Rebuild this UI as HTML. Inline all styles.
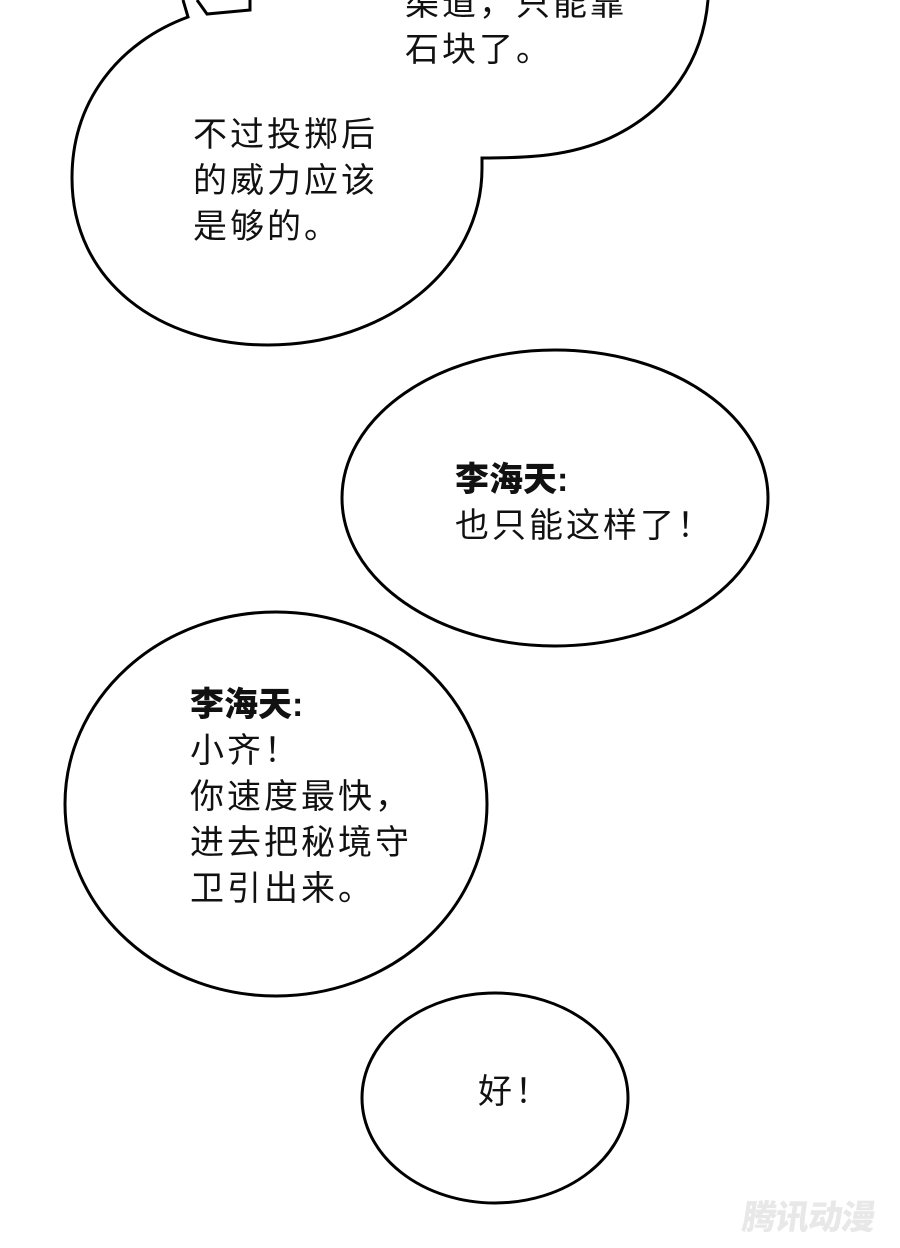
<!DOCTYPE html>
<html><head><meta charset="utf-8"><style>
html,body{margin:0;padding:0;background:#fff;}
body{width:900px;height:1248px;position:relative;overflow:hidden;font-family:"Liberation Sans","Noto Sans CJK SC",sans-serif;}
.t{position:absolute;font-size:34px;line-height:46px;color:#111;white-space:nowrap;letter-spacing:3px;}
b{font-weight:900;letter-spacing:0;}
</style></head><body>
<svg width="900" height="1248" style="position:absolute;left:0;top:0" fill="none" stroke="#000" stroke-width="3">
<path d="M183,0 L188,17 C120,42 72,100 72,178 C72,282 160,345 268,345 C385,345 482,270 482,168 L482,158 C530,158 570,156 610,138 C670,110 703,60 708,0" fill="#fff"/>
<path d="M197,0 L207,14 L250,10 L250,0"/>
<ellipse cx="555" cy="498" rx="213" ry="148" fill="#fff"/>
<ellipse cx="276" cy="804" rx="211" ry="192" fill="#fff"/>
<ellipse cx="495" cy="1098" rx="133" ry="105" fill="#fff"/>
</svg>
<div class="t" style="left:405px;top:-19px;">渠道，只能靠<br>石块了。</div>
<div class="t" style="left:193px;top:112px;">不过投掷后<br>的威力应该<br>是够的。</div>
<div class="t" style="left:455px;top:457px;"><b>李海天:</b><br>也只能这样了！</div>
<div class="t" style="left:190px;top:682px;"><b>李海天:</b><br>小齐！<br>你速度最快，<br>进去把秘境守<br>卫引出来。</div>
<div class="t" style="left:478px;top:1069px;">好！</div>
<div style="position:absolute;left:743px;top:1190px;font-size:34px;font-weight:900;color:#e8e8e8;letter-spacing:-1px;transform:skewX(-8deg);">腾讯动漫</div>
</body></html>
